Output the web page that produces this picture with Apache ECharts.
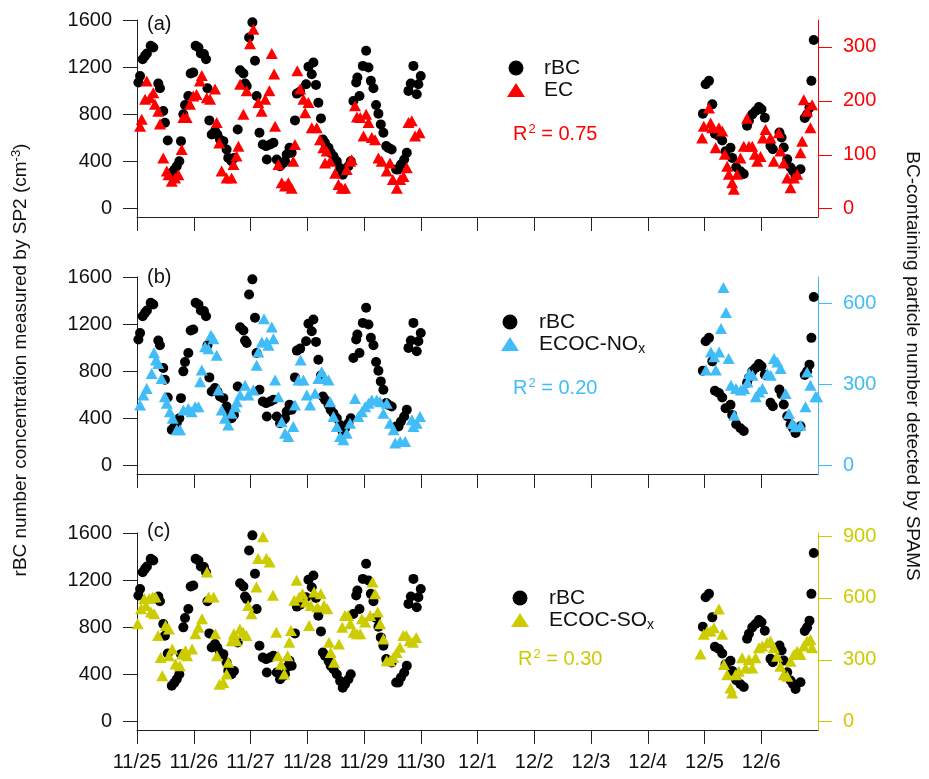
<!DOCTYPE html>
<html>
<head>
<meta charset="utf-8">
<title>rBC vs SPAMS</title>
<script src="https://cdn.jsdelivr.net/npm/echarts@6/dist/echarts.min.js"></script>
<style>
  html, body { margin: 0; padding: 0; background: #fff; }
  #main { width: 929px; height: 779px; }
</style>
</head>
<body>
<div id="main"></div>
<script>
// x values are hours after 11/25 00:00
var dateLabels = ['11/25', '11/26', '11/27', '11/28', '11/29', '11/30', '12/1', '12/2', '12/3', '12/4', '12/5', '12/6'];

// rBC from SP2 (cm-3), left axis, same in all three panels
var rbcHour = [0.6, 1.3, 2.4, 3.4, 4.2, 5.8, 6.9, 9.0, 9.7, 11.1, 11.8, 13.0, 14.7, 15.8, 16.8, 17.9, 18.6, 19.6, 20.3, 21.7,
  22.7, 23.8, 24.8, 26.0, 27.0, 28.3, 29.2, 29.8, 30.6, 31.6, 33.0, 34.0, 35.1, 36.5, 37.9, 38.6, 40.0, 41.0, 42.6, 43.6,
  45.0, 45.7, 46.4, 47.4, 48.8, 49.9, 50.6, 51.8, 53.2, 54.6, 54.9, 56.3, 57.7, 59.1, 60.5, 61.9, 62.6, 63.3, 64.5, 65.4,
  66.8, 67.6, 69.0, 71.5, 72.5, 73.9, 74.6, 75.7, 76.7, 77.8, 78.6, 79.5, 81.0, 81.9, 83.1, 84.5, 85.9, 87.0, 88.0, 89.4,
  90.4, 91.5, 92.7, 93.2, 94.1, 95.5, 96.9, 97.9, 98.9, 100.0, 101.1, 102.1, 103.1, 104.2, 105.4, 106.3, 107.7, 109.6, 110.6, 111.6,
  113.0, 114.1, 114.8, 115.8, 116.9, 118.3, 119.0, 120.0,
  239.3, 240.5, 241.9, 243.3, 244.4, 246.1, 247.5, 248.9, 251.0, 251.7, 253.4, 255.2, 256.6, 258.0, 258.8, 260.2, 261.6, 263.0,
  264.1, 265.5, 267.9, 268.9, 271.7, 272.6, 273.5, 275.0, 276.4, 277.4, 278.5, 280.6, 282.4, 283.4, 284.4, 285.2, 286.2];
var rbcValue = [1070, 1126, 1268, 1296, 1316, 1381, 1367, 1061, 1021, 828, 729, 579, 305, 330, 360, 403, 573, 800, 880, 956,
  1146, 1155, 1381, 1367, 1316, 1311, 1268, 1021, 749, 630, 658, 630, 587, 573, 502, 431, 403, 430, 672, 1174,
  1146, 1061, 1041, 1452, 1580, 1254, 956, 644, 545, 531, 417, 545, 559, 417, 360, 389, 403, 460, 516, 474,
  749, 976, 993, 1055, 1203, 1140, 1240, 1050, 899, 766, 587, 559, 516, 474, 445, 403, 346, 289, 318, 360,
  403, 914, 1070, 1112, 956, 1211, 1339, 1197, 1084, 1021, 880, 806, 715, 644, 531, 516, 502, 332, 332, 375,
  417, 474, 999, 1061, 1211, 970, 1055, 1126,
  806, 1055, 1084, 885, 636, 616, 579, 488, 516, 431, 352, 318, 295, 703, 746, 800, 828, 862,
  843, 772, 533, 505, 647, 604, 519, 420, 349, 321, 278, 335, 769, 800, 857, 1084, 1430];

// EC particles, panel (a) right axis
var ecHour = [1.3, 2.0, 3.4, 4.1, 5.5, 6.9, 7.6, 9.0, 9.7, 11.1, 12.6, 13.3, 14.7, 16.1, 17.5, 18.9, 19.6, 21.0, 22.4, 23.8,
  25.2, 26.6, 27.4, 29.5, 30.9, 33.0, 33.7, 34.8, 35.8, 37.9, 40.0, 40.8, 42.1, 42.9, 43.6, 45.0, 46.4, 47.8, 49.2, 51.3,
  52.7, 54.2, 56.0, 57.0, 58.0, 58.4, 59.8, 61.2, 62.6, 64.0, 65.4, 66.1, 66.8, 67.8, 69.0, 70.4, 71.1, 72.5, 73.9, 76.0,
  77.4, 78.8, 79.5, 80.2, 81.7, 83.8, 85.2, 86.6, 88.0, 88.7, 90.1, 90.8, 92.2, 93.0, 94.4, 95.8, 96.9, 97.9, 99.3, 100.7,
  102.1, 103.5, 105.6, 107.0, 108.2, 109.9, 111.3, 112.7, 114.1, 114.8, 116.2, 117.6, 119.5,
  239.0, 239.7, 241.9, 242.6, 243.3, 244.7, 246.1, 247.5, 248.6, 249.6, 250.3, 251.7, 252.4, 253.8, 255.2, 256.6, 258.0, 258.8,
  260.2, 261.3, 262.3, 263.7, 264.7, 265.8, 267.9, 269.3, 271.4, 272.1, 273.5, 275.0, 276.4, 277.8, 279.2, 280.6, 281.3, 282.0,
  283.4, 284.8, 285.5];
var ecValue = [153, 166, 203, 237, 206, 215, 194, 181, 157, 94, 70, 63, 51, 57, 63, 110, 169, 169, 194, 209,
  212, 237, 247, 206, 203, 222, 160, 122, 70, 57, 57, 82, 98, 116, 231, 175, 219, 306, 333, 197,
  181, 203, 219, 288, 250, 153, 82, 48, 42, 48, 38, 88, 119, 256, 222, 203, 178, 197, 150, 150,
  128, 113, 85, 107, 88, 66, 45, 38, 38, 73, 88, 91, 191, 170, 169, 135, 175, 160, 132, 128,
  94, 88, 70, 85, 54, 38, 54, 60, 76, 160, 163, 135, 141,
  131, 153, 187, 159, 150, 113, 150, 144, 101, 79, 64, 48, 36, 64, 94, 116, 168, 116,
  116, 101, 88, 97, 131, 147, 131, 88, 141, 107, 85, 57, 39, 57, 64, 104, 125, 202,
  181, 150, 193];

// ECOC-NOx particles, panel (b) right axis
var noxHour = [1.3, 2.7, 4.1, 6.2, 7.2, 8.0, 9.0, 10.4, 11.8, 12.6, 13.9, 15.1, 16.8, 18.2, 19.6, 21.7, 23.1, 24.6, 26.0, 26.7,
  27.4, 28.8, 30.2, 31.3, 32.3, 33.7, 34.4, 35.8, 37.2, 38.6, 40.0, 41.5, 42.2, 43.6, 45.7, 47.1, 49.2, 50.6, 51.3, 52.8,
  53.7, 54.9, 55.6, 57.0, 57.7, 58.4, 59.8, 61.2, 62.6, 64.0, 66.1, 66.8, 68.3, 69.2, 70.4, 71.8, 73.2, 75.3, 76.7, 78.1,
  79.5, 81.0, 81.7, 83.1, 84.5, 85.9, 87.3, 88.7, 90.1, 92.2, 93.6, 95.1, 96.5, 97.9, 99.3, 101.4, 102.8, 104.2, 105.6, 107.0,
  108.5, 109.2, 111.3, 113.4, 116.2, 116.9, 118.3, 119.7,
  240.6, 242.7, 244.1, 244.8, 246.2, 247.0, 248.0, 249.1, 250.2, 251.2, 252.6, 253.3, 255.4, 256.8, 258.2, 258.9, 260.3, 261.7,
  263.1, 264.5, 266.6, 268.0, 269.4, 270.8, 272.2, 274.3, 275.7, 277.1, 278.5, 280.6, 282.7, 283.4, 284.8, 286.9, 287.6];
var noxValue = [225, 262, 286, 341, 418, 391, 378, 323, 255, 231, 200, 176, 133, 133, 206, 212, 200, 218, 218, 311,
  354, 440, 433, 483, 470, 409, 280, 206, 176, 151, 194, 218, 237, 262, 298, 262, 280, 372, 421, 458,
  544, 458, 446, 513, 470, 317, 255, 163, 120, 108, 145, 225, 317, 391, 317, 262, 225, 268, 323, 348,
  323, 317, 237, 182, 145, 108, 96, 120, 157, 249, 182, 200, 218, 231, 243, 243, 237, 194, 231, 157,
  133, 84, 90, 90, 170, 145, 157, 182,
  354, 421, 403, 354, 421, 508, 659, 567, 397, 298, 187, 286, 280, 286, 310, 341, 335, 255,
  273, 286, 341, 335, 397, 384, 360, 267, 193, 156, 144, 150, 218, 347, 298, 255, 255];

// ECOC-SOx particles, panel (c) right axis
var soxHour = [0.3, 1.7, 3.1, 3.8, 5.2, 5.9, 6.6, 7.3, 7.9, 8.9, 10.0, 10.7, 12.1, 13.5, 13.5, 14.9, 16.3, 18.1, 19.1, 20.5,
  21.2, 23.3, 24.7, 26.0, 27.5, 29.6, 30.3, 32.4, 33.1, 33.8, 34.9, 36.5, 37.9, 38.6, 40.0, 41.0, 42.1, 43.5, 44.9, 46.3,
  47.0, 48.4, 50.5, 51.2, 53.3, 54.7, 56.1, 57.5, 58.9, 59.6, 60.9, 62.3, 63.7, 64.4, 65.1, 66.5, 67.5, 68.6, 70.0, 71.4,
  72.8, 73.5, 74.9, 76.3, 77.7, 79.1, 80.5, 81.2, 81.9, 83.3, 85.4, 86.8, 87.9, 89.3, 90.2, 91.6, 93.0, 94.4, 95.1, 96.5,
  98.6, 99.6, 100.7, 101.8, 102.8, 104.2, 105.6, 107.0, 108.4, 109.8, 111.2, 112.6, 113.9, 115.3, 116.7, 118.1,
  238.3, 239.7, 241.2, 242.6, 244.0, 246.1, 247.5, 248.2, 249.6, 251.0, 251.7, 253.1, 254.5, 255.9, 257.4, 258.8, 260.2, 261.6,
  263.0, 264.4, 266.5, 267.9, 269.3, 270.7, 272.1, 273.5, 275.0, 276.4, 277.8, 279.2, 280.6, 282.0, 283.4, 284.8, 285.5];
var soxValue = [475, 548, 597, 564, 597, 532, 605, 524, 605, 418, 312, 223, 467, 450, 320, 353, 280, 271, 328, 344,
  320, 353, 426, 458, 499, 726, 605, 605, 426, 320, 182, 190, 231, 288, 393, 426, 393, 450, 434, 418,
  564, 524, 653, 791, 897, 791, 775, 613, 434, 320, 279, 231, 320, 385, 442, 589, 686, 605, 621, 580,
  467, 564, 629, 556, 621, 564, 548, 385, 336, 288, 377, 458, 515, 515, 475, 434, 426, 426, 499, 483,
  515, 678, 621, 532, 475, 401, 296, 296, 312, 336, 361, 418, 418, 393, 385, 409,
  329, 424, 440, 440, 456, 546, 424, 277, 228, 163, 139, 228, 245, 310, 261, 302, 261, 310,
  359, 367, 383, 391, 359, 318, 269, 228, 220, 293, 326, 342, 326, 367, 391, 399, 359];

var leftTicks = [0, 400, 800, 1200, 1600];
var rightTicks = [[0, 100, 200, 300], [0, 300, 600], [0, 300, 600, 900]];
var rightMax = [350, 698, 915];
var r2Text = ['0.75', '0.20', '0.30'];
var otherNames = ['EC', 'ECOC-NO', 'ECOC-SO'];
var colors = ['#ff0000', '#40bdf8', '#cccc00'];

var fontFam = '"Liberation Sans", Arial, Helvetica, sans-serif';
var leftMin = -70, leftMax = 1600;
var tops = [20, 277, 533];
var tickHours = dateLabels.map(function (d, i) { return i * 24; });

function pairs(h, v) {
  return h.map(function (x, i) { return [x, v[i]]; });
}
function plain(v) { return String(v); }

var grids = [], xAxes = [], yAxes = [], series = [], graphics = [];
var others = [pairs(ecHour, ecValue), pairs(noxHour, noxValue), pairs(soxHour, soxValue)];
var rbc = pairs(rbcHour, rbcValue);

for (var i = 0; i < 3; i++) {
  grids.push({ left: 137, right: 111, top: tops[i], height: 197 });
  xAxes.push({
    type: 'value', gridIndex: i, min: 0, max: 288, interval: 24,
    axisLine: { onZero: false, lineStyle: { color: '#222', width: 1 } },
    axisTick: { length: 14, customValues: tickHours, lineStyle: { color: '#222', width: 1 } },
    axisLabel: {
      show: i === 2, customValues: tickHours, margin: 22, fontSize: 20, color: '#111', fontFamily: fontFam,
      formatter: function (v) { return dateLabels[Math.round(v / 24)] || ''; }
    },
    splitLine: { show: false }
  });
  yAxes.push({
    type: 'value', gridIndex: i, position: 'left', min: leftMin, max: leftMax,
    axisLine: { show: true, onZero: false, lineStyle: { color: '#222', width: 1 } },
    axisTick: { length: 14, customValues: leftTicks, lineStyle: { color: '#222', width: 1 } },
    axisLabel: { customValues: leftTicks, formatter: plain, margin: 25, fontSize: 20, color: '#111', fontFamily: fontFam },
    splitLine: { show: false }
  });
  var ratio = rightMax[i] / leftMax;
  yAxes.push({
    type: 'value', gridIndex: i, position: 'right', min: leftMin * ratio, max: rightMax[i],
    axisLine: { show: true, onZero: false, lineStyle: { color: colors[i], width: 1 } },
    axisTick: { length: 14, customValues: rightTicks[i], lineStyle: { color: colors[i], width: 1 } },
    axisLabel: { customValues: rightTicks[i], formatter: plain, margin: 25, fontSize: 20, color: colors[i], fontFamily: fontFam },
    splitLine: { show: false }
  });
  series.push({
    name: 'rBC', type: 'scatter', xAxisIndex: i, yAxisIndex: i * 2,
    symbol: 'circle', symbolSize: 10, itemStyle: { color: '#000', opacity: 1 },
    data: rbc
  });
  series.push({
    name: otherNames[i], type: 'scatter', xAxisIndex: i, yAxisIndex: i * 2 + 1,
    symbol: 'triangle', symbolSize: [12, 11], itemStyle: { color: colors[i], opacity: 1 },
    data: others[i]
  });
}

// panel letters, legends and R2 notes
var labelY = [24, 277, 531];
var legendPos = [[516, 68, 544], [510, 322, 539], [520, 598, 549]];
var r2Pos = [[513, 134], [513, 388], [518, 659]];
for (var j = 0; j < 3; j++) {
  graphics.push({
    type: 'text', x: 147, y: labelY[j],
    style: { text: '(' + 'abc'[j] + ')', fontSize: 20, fontFamily: fontFam, fill: '#111', verticalAlign: 'middle', textVerticalAlign: 'middle' }
  });
  var lx = legendPos[j][0], ly = legendPos[j][1], tx = legendPos[j][2];
  graphics.push({ type: 'circle', shape: { cx: lx, cy: ly, r: 7.5 }, style: { fill: '#000' } });
  graphics.push({
    type: 'polygon',
    shape: { points: [[lx, ly + 15], [lx - 9, ly + 29], [lx + 9, ly + 29]] },
    style: { fill: colors[j] }
  });
  graphics.push({
    type: 'text', x: tx, y: ly,
    style: { text: 'rBC', fontSize: 21, fontFamily: fontFam, fill: '#111', verticalAlign: 'middle', textVerticalAlign: 'middle' }
  });
  graphics.push({
    type: 'text', x: tx, y: ly + 22,
    style: {
      text: j === 0 ? 'EC' : otherNames[j] + '{sub|x}',
      fontSize: 21, fontFamily: fontFam, fill: '#111', verticalAlign: 'middle', textVerticalAlign: 'middle',
      rich: { sub: { fontSize: 14, fontFamily: fontFam, fill: '#111', color: '#111', verticalAlign: 'bottom', padding: [10, 0, 0, 0] } }
    }
  });
  graphics.push({
    type: 'text', x: r2Pos[j][0], y: r2Pos[j][1],
    style: {
      text: 'R{sup|2} = ' + r2Text[j],
      fontSize: 20, fontFamily: fontFam, fill: colors[j], verticalAlign: 'middle', textVerticalAlign: 'middle',
      rich: { sup: { fontSize: 13, fontFamily: fontFam, fill: colors[j], color: colors[j], verticalAlign: 'top', padding: [0, 0, 10, 1] } }
    }
  });
}

// axis titles
graphics.push({
  type: 'text', x: 21, y: 360, rotation: Math.PI / 2,
  style: {
    text: 'rBC number concentration measured by SP2 (cm{sup|-3})',
    fontSize: 19, fontFamily: fontFam, fill: '#111', align: 'center', textAlign: 'center', verticalAlign: 'middle', textVerticalAlign: 'middle',
    rich: { sup: { fontSize: 13, fontFamily: fontFam, fill: '#111', color: '#111', verticalAlign: 'top', padding: [0, 0, 10, 0] } }
  }
});
graphics.push({
  type: 'text', x: 912, y: 366, rotation: -Math.PI / 2,
  style: {
    text: 'BC-containing particle number detected by SPAMS',
    fontSize: 19, fontFamily: fontFam, fill: '#111', align: 'center', textAlign: 'center', verticalAlign: 'middle', textVerticalAlign: 'middle'
  }
});

var myChart = echarts.init(document.getElementById('main'), null, { renderer: 'canvas' });
myChart.setOption({
  animation: false,
  backgroundColor: '#fff',
  grid: grids,
  xAxis: xAxes,
  yAxis: yAxes,
  series: series,
  graphic: { elements: graphics }
});
</script>
</body>
</html>
